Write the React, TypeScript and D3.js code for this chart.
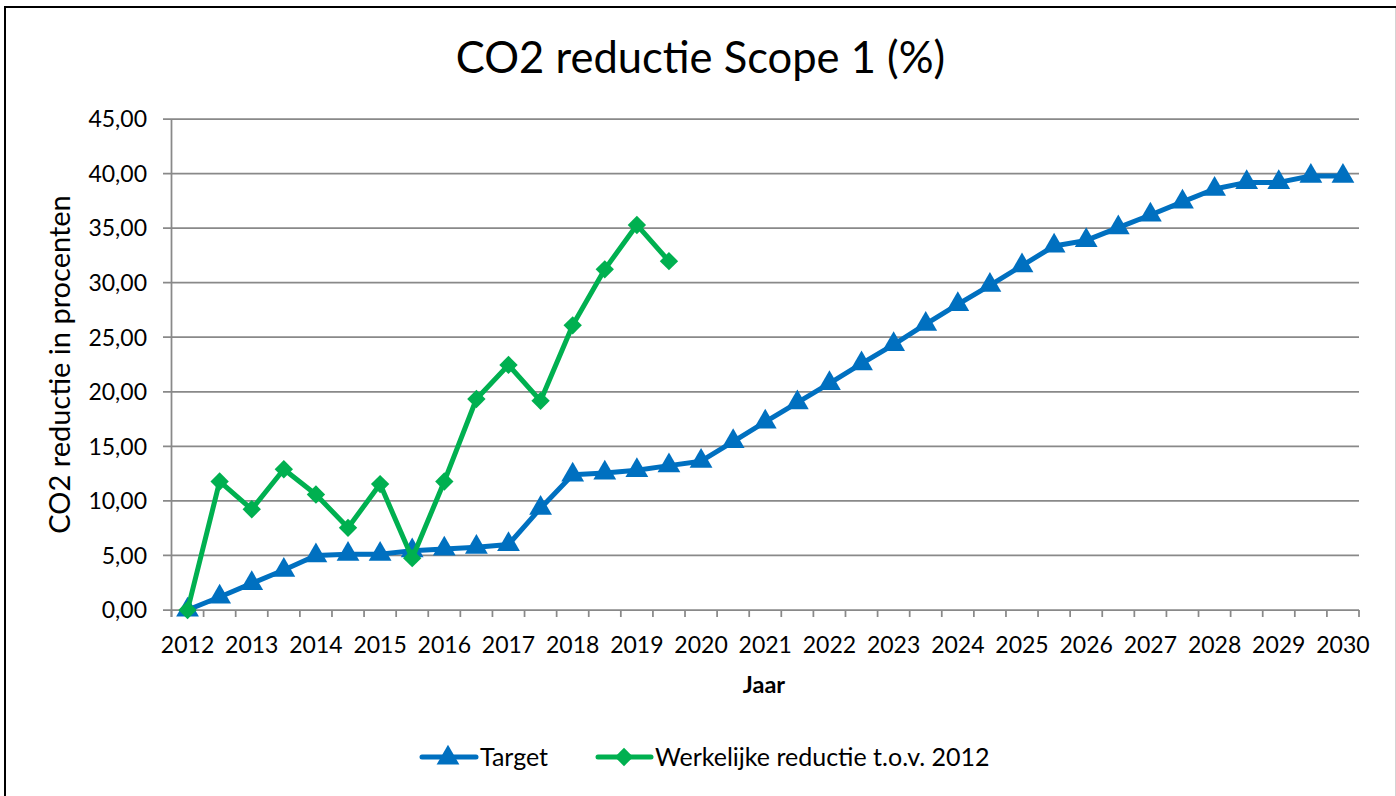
import React from "react";
import * as d3 from "d3";

// ---------- data ----------
const periods = [
  "2012", "2012-2", "2013", "2013-2", "2014", "2014-2", "2015", "2015-2",
  "2016", "2016-2", "2017", "2017-2", "2018", "2018-2", "2019", "2019-2",
  "2020", "2020-2", "2021", "2021-2", "2022", "2022-2", "2023", "2023-2",
  "2024", "2024-2", "2025", "2025-2", "2026", "2026-2", "2027", "2027-2",
  "2028", "2028-2", "2029", "2029-2", "2030",
];

const yearLabels = [
  "2012", "2013", "2014", "2015", "2016", "2017", "2018", "2019", "2020",
  "2021", "2022", "2023", "2024", "2025", "2026", "2027", "2028", "2029", "2030",
];

const targetValues = [
  0, 1.19, 2.44, 3.66, 4.99, 5.12, 5.12, 5.43, 5.6, 5.75, 6.0, 9.33, 12.39,
  12.56, 12.8, 13.23, 13.64, 15.44, 17.24, 19.0, 20.77, 22.57, 24.33, 26.2,
  28.0, 29.76, 31.56, 33.36, 33.87, 35.05, 36.2, 37.4, 38.58, 39.19, 39.19,
  39.77, 39.77,
];

const actualValues = [
  0, 11.78, 9.23, 12.9, 10.59, 7.53, 11.54, 4.75, 11.78, 19.34, 22.46, 19.17,
  26.09, 31.22, 35.29, 31.97,
];

const yTicks = [0, 5, 10, 15, 20, 25, 30, 35, 40, 45];

const seriesNames = ["Target", "Werkelijke reductie t.o.v. 2012"];
const titleText = "CO2 reductie Scope 1 (%)";
const yAxisTitle = "CO2 reductie in procenten";
const xAxisTitle = "Jaar";

// ---------- styles ----------
const W = 1396;
const H = 796;
const FONT = "Lato, 'Open Sans', sans-serif";
const BLUE = "#0070C0";
const GREEN = "#00B050";
const GRID = "#898989";

const left = 171.5;
const right = 1359;
const top = 119;
const bottom = 610;

const fmt = (v: number) => d3.format(".2f")(v).replace(".", ",");

export default function App() {
  const x = d3.scaleBand<string>().domain(periods).range([left, right]).padding(0);
  const y = d3.scaleLinear().domain([0, 45]).range([bottom, top]);
  const cx = (p: string) => (x(p) as number) + x.bandwidth() / 2;

  const line = d3
    .line<number>()
    .x((_, i) => cx(periods[i]))
    .y((d) => y(d));

  const tri = d3.symbol().type(d3.symbolTriangle).size(225)();
  const hasD2 = !!(d3 as any).symbolDiamond2;
  const diamondType = hasD2 ? (d3 as any).symbolDiamond2 : d3.symbolSquare;
  const dia = d3.symbol().type(diamondType).size(215)();
  const diaRotate = hasD2 ? 0 : 45;

  const step = x.step();
  const boundaries = d3.range(periods.length + 1).map((i) => left + i * step);

  return (
    <svg
      width={W}
      height={H}
      style={{ position: "absolute", left: 0, top: 0, background: "#fff" }}
      fontFamily={FONT}
    >
      <rect x={0} y={0} width={W} height={H} fill="#fff" />
      {/* frame */}
      <line x1={5} y1={7} x2={W} y2={7} stroke="#000" strokeWidth={2} />
      <line x1={5} y1={6} x2={5} y2={H} stroke="#000" strokeWidth={2} />
      <line x1={1395.5} y1={8} x2={1395.5} y2={H} stroke="#d4d4d4" strokeWidth={1} />

      {/* title */}
      <text x={700.5} y={73} textAnchor="middle" fontSize={43.5} fill="#000">
        {titleText}
      </text>

      {/* gridlines */}
      {yTicks.map((t) => (
        <line key={t} x1={163} x2={right} y1={y(t)} y2={y(t)} stroke={GRID} strokeWidth={1.75} />
      ))}
      {/* y axis line */}
      <line x1={left} x2={left} y1={top} y2={bottom + 7} stroke={GRID} strokeWidth={1.75} />
      {/* x tick marks */}
      {boundaries.map((bx, i) => (
        <line key={i} x1={bx} x2={bx} y1={bottom} y2={bottom + 7} stroke={GRID} strokeWidth={1.75} />
      ))}

      {/* y tick labels */}
      {yTicks.map((t) => (
        <text key={t} x={147} y={y(t)} dy="0.36em" textAnchor="end" fontSize={23} fill="#000">
          {fmt(t)}
        </text>
      ))}
      {/* x tick labels */}
      {yearLabels.map((lab) => (
        <text key={lab} x={cx(lab)} y={653} textAnchor="middle" fontSize={23} fill="#000">
          {lab}
        </text>
      ))}

      {/* axis titles */}
      <text
        transform={`translate(70,${(top + bottom) / 2}) rotate(-90)`}
        textAnchor="middle"
        fontSize={29}
        fill="#000"
      >
        {yAxisTitle}
      </text>
      <text x={764} y={693} textAnchor="middle" fontSize={23.5} fontWeight="bold" fill="#000">
        {xAxisTitle}
      </text>

      {/* series */}
      <path d={line(targetValues) || ""} fill="none" stroke={BLUE} strokeWidth={5} strokeLinejoin="round" strokeLinecap="round" />
      {targetValues.map((v, i) => (
        <path key={i} d={tri || ""} transform={`translate(${cx(periods[i])},${y(v)})`} fill={BLUE} />
      ))}
      <path d={line(actualValues) || ""} fill="none" stroke={GREEN} strokeWidth={5} strokeLinejoin="round" strokeLinecap="round" />
      {actualValues.map((v, i) => (
        <path key={i} d={dia || ""} transform={`translate(${cx(periods[i])},${y(v)}) rotate(${diaRotate})`} fill={GREEN} />
      ))}

      {/* legend */}
      <g transform="translate(0,757)">
        <line x1={422} x2={476} y1={0} y2={0} stroke={BLUE} strokeWidth={5} strokeLinecap="round" />
        <path d={tri || ""} transform="translate(448,1)" fill={BLUE} />
        <text x={480} y={0} dy="0.36em" fontSize={25} fill="#000">{seriesNames[0]}</text>
        <line x1={598} x2={651} y1={0} y2={0} stroke={GREEN} strokeWidth={5} strokeLinecap="round" />
        <path d={dia || ""} transform={`translate(624,0) rotate(${diaRotate})`} fill={GREEN} />
        <text x={655} y={0} dy="0.36em" fontSize={25} fill="#000">{seriesNames[1]}</text>
      </g>
    </svg>
  );
}
